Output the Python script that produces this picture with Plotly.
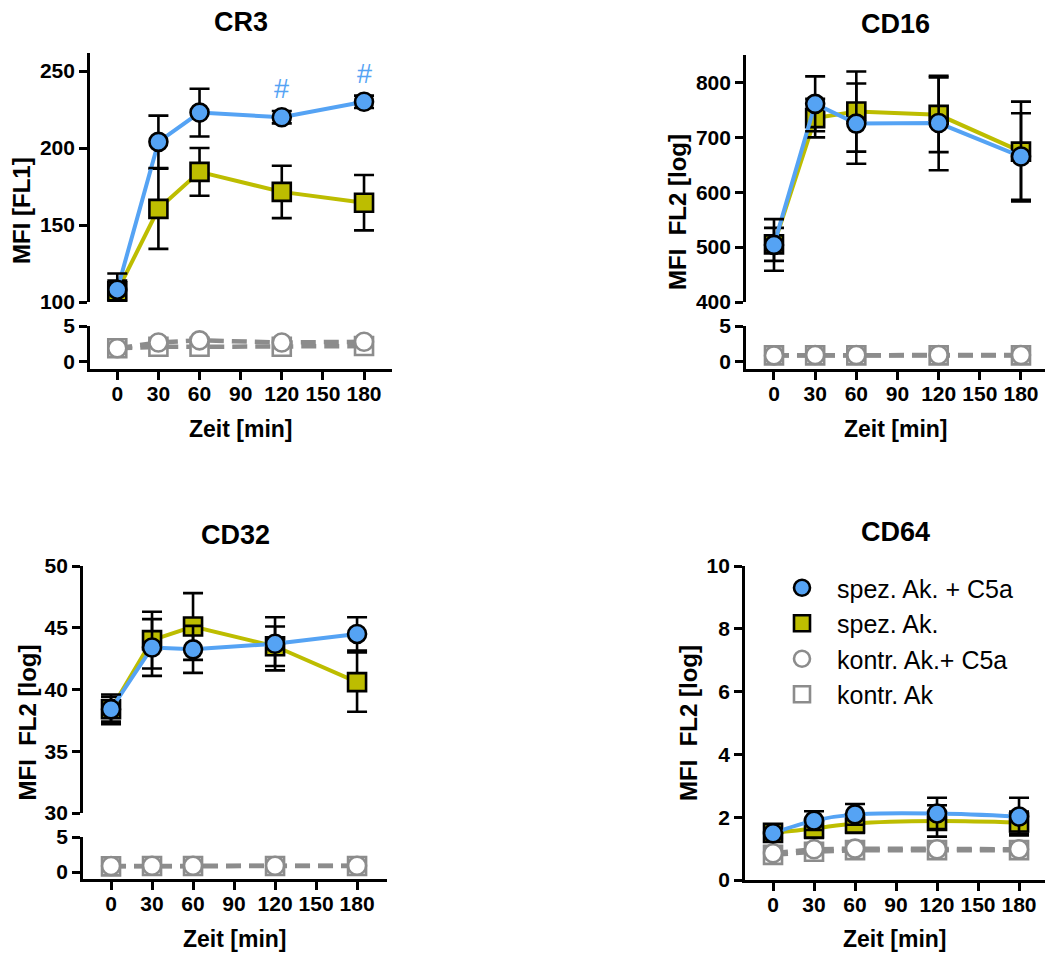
import plotly.graph_objects as go

W, H = 1045, 956
FONT = "Liberation Sans, Arial, Helvetica, sans-serif"

# ---------------- data ----------------
time_min = [0, 30, 60, 120, 180]
x_ticks = [0, 30, 60, 90, 120, 150, 180]
x_ticktext = ["0", "30", "60", "90", "120", "150", "180"]

series_names = ["spez. Ak. + C5a", "spez. Ak.", "kontr. Ak.+ C5a", "kontr. Ak"]

# CR3
cr3_spez_c5a = [108, 204, 223, 220, 230]
cr3_spez_c5a_err = [10.5, 17, 15.5, 4, 4]
cr3_spez = [107, 160.5, 184.5, 171.5, 164.5]
cr3_spez_err = [7, 26, 15.5, 17, 18]
cr3_kontr_c5a = [1.9, 2.7, 3.0, 2.7, 2.8]
cr3_kontr = [1.9, 2.1, 2.1, 2.1, 2.2]

# CD16
cd16_spez_c5a = [504, 761, 725, 726, 665]
cd16_spez_c5a_err = [47, 50, 73, 86, 79]
cd16_spez = [505, 735, 747, 741, 674]
cd16_spez_err = [30, 35, 73, 68, 91]
cd16_kontr_c5a = [0.9, 0.95, 0.95, 0.95, 0.95]
cd16_kontr = [0.9, 0.9, 0.9, 0.9, 0.9]

# CD32
cd32_spez_c5a = [38.4, 43.4, 43.25, 43.7, 44.5]
cd32_spez_c5a_err = [1.2, 2.3, 1.9, 2.15, 1.35]
cd32_spez = [38.4, 44.0, 45.1, 43.5, 40.6]
cd32_spez_err = [1.0, 2.3, 2.7, 1.6, 2.4]
cd32_kontr_c5a = [0.85, 0.9, 0.9, 0.9, 0.9]
cd32_kontr = [0.8, 0.85, 0.85, 0.85, 0.85]

# CD64
cd64_spez_c5a = [1.49, 1.89, 2.09, 2.12, 2.02]
cd64_spez_c5a_err = [0.15, 0.3, 0.33, 0.5, 0.6]
cd64_spez = [1.5, 1.64, 1.80, 1.88, 1.83]
cd64_spez_err = [0.2, 0.3, 0.3, 0.5, 0.35]
cd64_kontr_c5a = [0.85, 0.98, 1.0, 0.98, 0.98]
cd64_kontr = [0.8, 0.9, 0.95, 0.95, 0.95]

hash_marks_cr3 = [120, 180]

# ---------------- styles ----------------
BLUE = "#55A3F4"
OLIVE = "#BDBD00"
GREY = "#8C8C8C"


def fx(px):
    return px / W


def fy(px):
    return 1 - px / H


axis_common = dict(
    showline=True, linecolor="black", linewidth=2.7,
    ticks="outside", ticklen=8, tickwidth=2.5, tickcolor="black",
    showgrid=False, zeroline=False, automargin=False,
    tickfont=dict(family=FONT, size=21, color="black", weight="bold"),
)

styles = {
    0: dict(color=BLUE, symbol="circle", fill=BLUE, edge="black", dash="solid", lw=4, rank=1),
    1: dict(color=OLIVE, symbol="square", fill=OLIVE, edge="black", dash="solid", lw=4, rank=2),
    2: dict(color=GREY, symbol="circle", fill="white", edge=GREY, dash="15px,8px", lw=4.5, rank=3),
    3: dict(color=GREY, symbol="square", fill="white", edge=GREY, dash="15px,8px", lw=4.5, rank=4),
}

fig = go.Figure()


def add_series(idx, xa, ya, y, err=None, legend=False, shape="linear"):
    st = styles[idx]
    fig.add_trace(go.Scatter(
        x=time_min, y=y, xaxis=xa, yaxis=ya, mode="lines",
        line=dict(color=st["color"], width=st["lw"], dash=st["dash"], shape=shape),
        showlegend=False, legendgroup=series_names[idx], hoverinfo="skip",
        cliponaxis=False,
    ))
    kw = {}
    if err is not None:
        kw["error_y"] = dict(type="data", array=err, visible=True,
                             color="black", thickness=2.6, width=10)
    fig.add_trace(go.Scatter(
        x=time_min, y=y, xaxis=xa, yaxis=ya, mode="markers",
        name=series_names[idx], legendgroup=series_names[idx],
        legendrank=st["rank"], showlegend=legend,
        marker=dict(symbol=st["symbol"], size=18, color=st["fill"],
                    line=dict(color=st["edge"], width=2.6)),
        cliponaxis=False, **kw,
    ))


panels = [
    dict(title="CR3", ytitle="MFI [FL1]", xa="x", ylow="y", yup="y2",
         xdom=(90, 392), xr=[-19.9, 200.4], up=(53, 302), low=(326, 369),
         upr=[100, 261.7], updt=50, ytitle_x=22,
         data=(cr3_spez_c5a, cr3_spez_c5a_err, cr3_spez, cr3_spez_err, cr3_kontr_c5a, cr3_kontr)),
    dict(title="CD16", ytitle="MFI  FL2 [log]", xa="x2", ylow="y3", yup="y4",
         xdom=(746, 1045), xr=[-20.4, 197.5], up=(55, 302), low=(326, 369),
         upr=[400, 850], updt=100, ytitle_x=678,
         data=(cd16_spez_c5a, cd16_spez_c5a_err, cd16_spez, cd16_spez_err, cd16_kontr_c5a, cd16_kontr)),
    dict(title="CD32", ytitle="MFI  FL2 [log]", xa="x3", ylow="y5", yup="y6",
         xdom=(83, 387), xr=[-20.5, 201.9], up=(566, 813), low=(837, 879),
         upr=[30, 50], updt=5, ytitle_x=27,
         data=(cd32_spez_c5a, cd32_spez_c5a_err, cd32_spez, cd32_spez_err, cd32_kontr_c5a, cd32_kontr)),
]

layout = dict(
    width=W, height=H, margin=dict(l=0, r=0, t=0, b=0, pad=0, autoexpand=False),
    paper_bgcolor="white", plot_bgcolor="white",
    font=dict(family=FONT, color="black"),
    annotations=[],
)


def axis_key(name):
    base = "xaxis" if name[0] == "x" else "yaxis"
    return base + name[1:]


for p in panels:
    c5a, c5a_err, spez, spez_err, k_c5a, k = p["data"]
    add_series(3, p["xa"], p["ylow"], k)
    add_series(2, p["xa"], p["ylow"], k_c5a)
    add_series(1, p["xa"], p["yup"], spez, spez_err)
    add_series(0, p["xa"], p["yup"], c5a, c5a_err)

    layout[axis_key(p["xa"])] = dict(
        domain=[fx(p["xdom"][0]), fx(p["xdom"][1])], range=p["xr"],
        anchor=p["ylow"], tickvals=x_ticks, ticktext=x_ticktext,
        ticklabelstandoff=-4, **axis_common)
    layout[axis_key(p["ylow"])] = dict(
        domain=[fy(p["low"][1]), fy(p["low"][0])], range=[-1, 5],
        anchor=p["xa"], tickvals=[0, 5], **axis_common)
    layout[axis_key(p["yup"])] = dict(
        domain=[fy(p["up"][1]), fy(p["up"][0])], range=p["upr"],
        anchor=p["xa"], dtick=p["updt"], tick0=0, **axis_common)

    xc = (p["xdom"][0] + p["xdom"][1]) / 2
    top = p["up"][0]
    bottom = p["low"][1]
    layout["annotations"] += [
        dict(text="<b>%s</b>" % p["title"], x=fx(xc), y=fy(top - 31), xref="paper", yref="paper",
             xanchor="center", yanchor="middle", showarrow=False,
             font=dict(family=FONT, size=27, color="black")),
        dict(text="<b>Zeit [min]</b>", x=fx(xc), y=fy(bottom + 60), xref="paper", yref="paper",
             xanchor="center", yanchor="middle", showarrow=False,
             font=dict(family=FONT, size=23, color="black")),
        dict(text="<b>%s</b>" % p["ytitle"], x=fx(p["ytitle_x"]), y=fy((top + bottom) / 2),
             xref="paper", yref="paper", xanchor="center", yanchor="middle",
             textangle=-90, showarrow=False,
             font=dict(family=FONT, size=24, color="black")),
    ]

# CD64 (single axis)
add_series(3, "x4", "y7", cd64_kontr, legend=True)
add_series(2, "x4", "y7", cd64_kontr_c5a, legend=True)
add_series(1, "x4", "y7", cd64_spez, cd64_spez_err, legend=True, shape="spline")
add_series(0, "x4", "y7", cd64_spez_c5a, cd64_spez_c5a_err, legend=True, shape="spline")

layout["xaxis4"] = dict(domain=[fx(745), fx(1045)], range=[-20.5, 199], anchor="y7",
                        tickvals=x_ticks, ticktext=x_ticktext, ticklabelstandoff=-4,
                        **axis_common)
layout["yaxis7"] = dict(domain=[fy(880), fy(566)], range=[0, 10], anchor="x4",
                        dtick=2, tick0=0, **axis_common)
xc = (745 + 1045) / 2
layout["annotations"] += [
    dict(text="<b>CD64</b>", x=fx(xc), y=fy(566 - 34), xref="paper", yref="paper",
         xanchor="center", yanchor="middle", showarrow=False,
         font=dict(family=FONT, size=27, color="black")),
    dict(text="<b>Zeit [min]</b>", x=fx(xc), y=fy(880 + 59), xref="paper", yref="paper",
         xanchor="center", yanchor="middle", showarrow=False,
         font=dict(family=FONT, size=23, color="black")),
    dict(text="<b>MFI  FL2 [log]</b>", x=fx(688), y=fy((566 + 880) / 2), xref="paper", yref="paper",
         xanchor="center", yanchor="middle", textangle=-90, showarrow=False,
         font=dict(family=FONT, size=24, color="black")),
]

# significance marks in CR3
for t in hash_marks_cr3:
    i = time_min.index(t)
    layout["annotations"].append(dict(
        text="#", x=t, y=cr3_spez_c5a[i], xref="x", yref="y2", yshift=28,
        xanchor="center", yanchor="middle", showarrow=False,
        font=dict(family=FONT, size=27, color=BLUE)))

layout["legend"] = dict(
    x=fx(767), y=fy(565), xanchor="left", yanchor="top",
    font=dict(family=FONT, size=25, color="black"),
    itemwidth=60, tracegroupgap=0, traceorder="grouped",
    bgcolor="rgba(0,0,0,0)",
)

fig.update_layout(**layout)
fig.write_html("out.html", config={"displayModeBar": False},
               post_script="document.body.style.margin='0';")
